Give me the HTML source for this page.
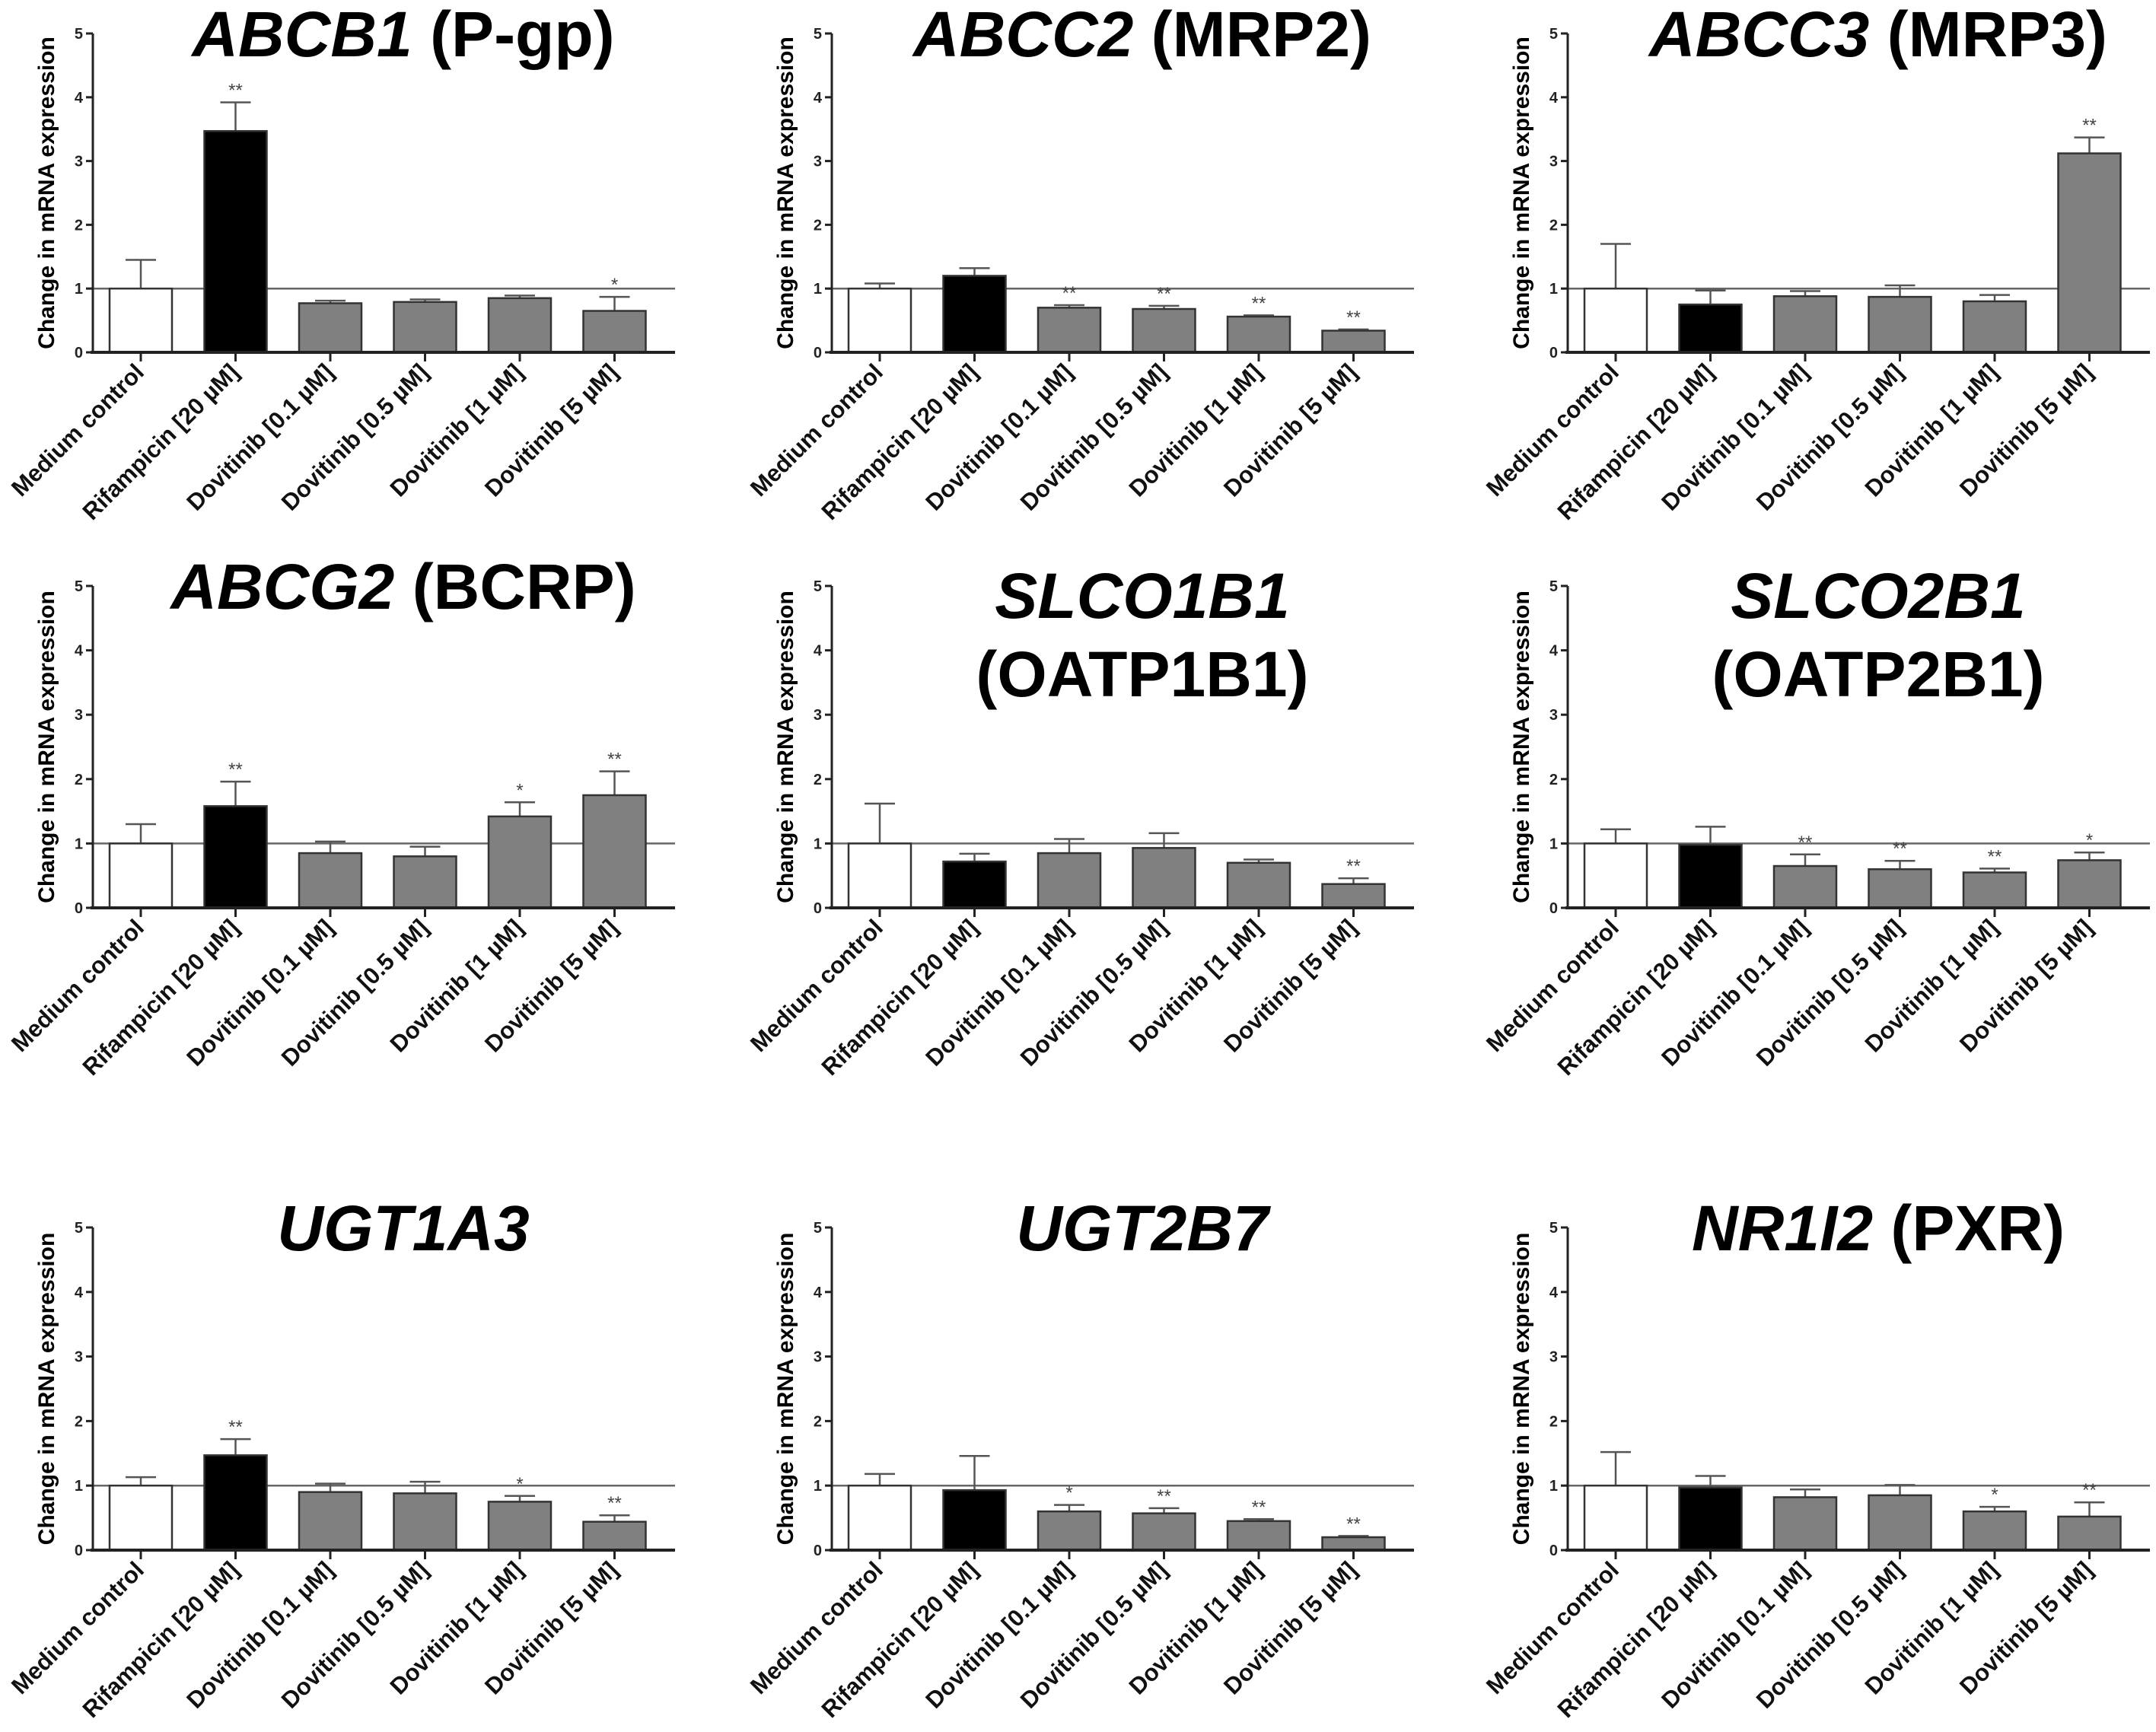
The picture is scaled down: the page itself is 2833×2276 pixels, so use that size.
<!DOCTYPE html>
<html><head><meta charset="utf-8">
<style>
html,body{margin:0;padding:0;background:#fff;}
svg{display:block;font-family:"Liberation Sans",Arial,sans-serif;}
</style></head>
<body>
<svg id="fig" width="2833" height="2276" viewBox="0 0 2833 2276" xmlns="http://www.w3.org/2000/svg"></svg>
<script>
const categories = ["Medium control","Rifampicin [20 µM]","Dovitinib [0.1 µM]","Dovitinib [0.5 µM]","Dovitinib [1 µM]","Dovitinib [5 µM]"];
const yTicks = [0,1,2,3,4,5];
const panelIds = ["abcb1","abcc2","abcc3","abcg2","slco1b1","slco2b1","ugt1a3","ugt2b7","nr1i2"];
const titleItalic = ["ABCB1","ABCC2","ABCC3","ABCG2","SLCO1B1","SLCO2B1","UGT1A3","UGT2B7","NR1I2"];
const titleNormal = ["(P-gp)","(MRP2)","(MRP3)","(BCRP)","(OATP1B1)","(OATP2B1)","","","(PXR)"];
const titleTwoLine = [false,false,false,false,true,true,false,false,false];
const valAbcb1 = [1,3.47,0.77,0.79,0.85,0.65];
const errAbcb1 = [0.45,0.45,0.04,0.04,0.04,0.22];
const starAbcb1 = ["","**","","","","*"];
const valAbcc2 = [1,1.2,0.7,0.68,0.56,0.34];
const errAbcc2 = [0.08,0.12,0.04,0.05,0.02,0.02];
const starAbcc2 = ["","","**","**","**","**"];
const valAbcc3 = [1,0.75,0.88,0.87,0.8,3.12];
const errAbcc3 = [0.7,0.22,0.08,0.18,0.1,0.25];
const starAbcc3 = ["","","","","","**"];
const valAbcg2 = [1,1.58,0.85,0.8,1.42,1.75];
const errAbcg2 = [0.3,0.38,0.18,0.15,0.22,0.37];
const starAbcg2 = ["","**","","","*","**"];
const valSlco1b1 = [1,0.72,0.85,0.93,0.7,0.37];
const errSlco1b1 = [0.62,0.12,0.22,0.23,0.05,0.09];
const starSlco1b1 = ["","","","","","**"];
const valSlco2b1 = [1,0.98,0.65,0.6,0.55,0.74];
const errSlco2b1 = [0.22,0.28,0.18,0.13,0.06,0.12];
const starSlco2b1 = ["","","**","**","**","*"];
const valUgt1a3 = [1,1.47,0.9,0.88,0.75,0.44];
const errUgt1a3 = [0.13,0.25,0.13,0.18,0.09,0.1];
const starUgt1a3 = ["","**","","","*","**"];
const valUgt2b7 = [1,0.93,0.6,0.57,0.45,0.2];
const errUgt2b7 = [0.18,0.53,0.1,0.08,0.03,0.02];
const starUgt2b7 = ["","","*","**","**","**"];
const valNr1i2 = [1,0.97,0.82,0.85,0.6,0.52];
const errNr1i2 = [0.52,0.18,0.12,0.16,0.07,0.22];
const starNr1i2 = ["","","","","*","**"];
const allVals = [valAbcb1,valAbcc2,valAbcc3,valAbcg2,valSlco1b1,valSlco2b1,valUgt1a3,valUgt2b7,valNr1i2];
const allErrs = [errAbcb1,errAbcc2,errAbcc3,errAbcg2,errSlco1b1,errSlco2b1,errUgt1a3,errUgt2b7,errNr1i2];
const allStars = [starAbcb1,starAbcc2,starAbcc3,starAbcg2,starSlco1b1,starSlco2b1,starUgt1a3,starUgt2b7,starNr1i2];

const NS = "http://www.w3.org/2000/svg";
const svg = document.getElementById("fig");
const colX = [122,1093,2060];
const rowY = [[44,463],[770,1193],[1613,2037]];
const fills = ["#ffffff","#000000","#808080","#808080","#808080","#808080"];
function mk(tag, attrs, parent){const e=document.createElementNS(NS,tag);for(const k in attrs)e.setAttribute(k,attrs[k]);parent.appendChild(e);return e;}

panelIds.forEach((pid, p) => {
  const ax = colX[p%3];
  const [yTop, yBot] = rowY[Math.floor(p/3)];
  const axEnd = ax + 765;
  const y = v => yBot - (yBot - yTop) * v / 5;
  const xc = i => ax + 63 + i * 124.5;
  const g = mk("g", {}, svg);
  
  

  // title
  const tcx = ax + 408;
  const t = mk("text", {"text-anchor":"middle","font-weight":"bold","font-size":"84"}, g);
  
  
  if (titleTwoLine[p]) {
    t.setAttribute("x", tcx); t.setAttribute("y", yTop + 42);
    const s1 = mk("tspan", {"font-style":"italic"}, t); s1.textContent = titleItalic[p];
    const s2 = mk("tspan", {"x": tcx, "dy": "103"}, t); s2.textContent = titleNormal[p];
  } else {
    t.setAttribute("x", tcx); t.setAttribute("y", yTop + 30);
    const s1 = mk("tspan", {"font-style":"italic"}, t); s1.textContent = titleItalic[p];
    if (titleNormal[p]) { const s2 = mk("tspan", {}, t); s2.textContent = " " + titleNormal[p]; }
  }

  // y axis title
  const yt = mk("text", {"transform":`translate(${ax-62},${(yTop+yBot)/2}) rotate(-90)`,"text-anchor":"middle","font-weight":"bold","font-size":"30","dy":"11"}, g);
  
  
  yt.textContent = "Change in mRNA expression";

  // reference line at 1
  const rl = mk("line", {x1:ax, x2:axEnd, y1:y(1), y2:y(1), stroke:"#666", "stroke-width":"2.5"}, g);
  
  

  // bars and error bars
  const vals = allVals[p], errs = allErrs[p], stars = allStars[p];
  categories.forEach((c, i) => {
    const top = y(vals[i]);
    const et = y(vals[i] + errs[i]);
    const el = mk("line", {x1:xc(i), x2:xc(i), y1:top, y2:et, stroke:"#555", "stroke-width":"2.5"}, g);
    
    
    const ec = mk("line", {x1:xc(i)-20, x2:xc(i)+20, y1:et, y2:et, stroke:"#555", "stroke-width":"2.5"}, g);
    
    
    const r = mk("rect", {x:xc(i)-41, y:top, width:82, height:yBot-top, fill:fills[i], stroke:"#333", "stroke-width":"2.5"}, g);
    
    
    if (stars[i]) {
      const st = mk("text", {x:xc(i), y:et-8, "text-anchor":"middle", "font-size":"24", fill:"#444"}, g);
      
      
      st.textContent = stars[i];
    }
    const tk = mk("line", {x1:xc(i), x2:xc(i), y1:yBot, y2:yBot+12, stroke:"#222", "stroke-width":"3"}, g);
    
    
    const lx = xc(i) + 6, ly = yBot + 28;
    const lb = mk("text", {x:lx, y:ly, transform:`rotate(-45 ${lx} ${ly})`, "text-anchor":"end", "font-weight":"bold", "font-size":"31", fill:"#111"}, g);
    
    
    lb.textContent = c;
  });

  // axes
  const xa = mk("line", {x1:ax-3, x2:axEnd, y1:yBot, y2:yBot, stroke:"#222", "stroke-width":"4"}, g);
  
  
  const ya = mk("line", {x1:ax, x2:ax, y1:yTop, y2:yBot, stroke:"#222", "stroke-width":"3"}, g);
  
  
  yTicks.forEach(v => {
    const tk = mk("line", {x1:ax-9, x2:ax, y1:y(v), y2:y(v), stroke:"#222", "stroke-width":"3"}, g);
    
    
    const tl = mk("text", {x:ax-13, y:y(v)+7, "text-anchor":"end", "font-weight":"bold", "font-size":"20", fill:"#222"}, g);
    
    
    tl.textContent = v;
  });
});
</script>
</body></html>
